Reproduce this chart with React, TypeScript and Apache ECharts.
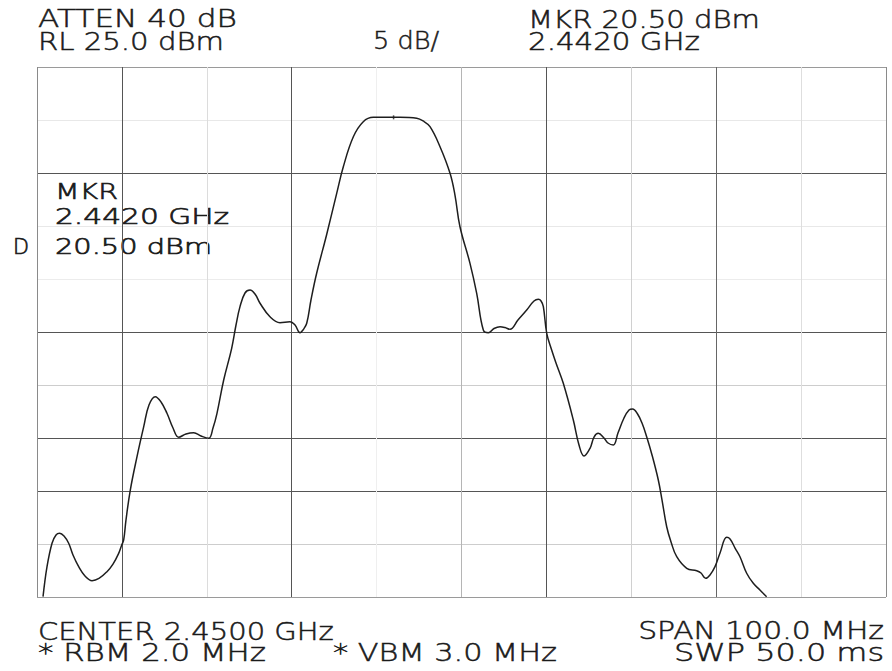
import React, { useEffect, useRef } from 'react';
import * as echarts from 'echarts';

// Trace: frequency (MHz) and level (dBm)
const freqMHz = [
  2400.71, 2401.18, 2401.77, 2402.24, 2402.67, 2403.18, 2403.73, 2404.24, 2404.91, 2405.65,
  2406.48, 2407.30, 2408.24, 2408.95, 2409.62, 2409.98, 2410.21, 2410.48, 2410.99, 2411.78,
  2412.57, 2413.19, 2413.93, 2414.61, 2415.31, 2416.02, 2416.69, 2417.55, 2418.46, 2419.32,
  2420.22, 2420.73, 2421.20, 2421.99, 2422.93, 2423.44, 2423.91, 2424.50, 2425.09, 2425.68,
  2426.27, 2427.44, 2428.62, 2429.80, 2430.39, 2430.98, 2431.33, 2431.77, 2432.27, 2432.94,
  2434.12, 2435.30, 2436.08, 2437.26, 2438.43, 2439.61, 2441.97, 2442.76, 2444.72, 2445.47,
  2446.29, 2447.47, 2448.65, 2449.23, 2449.82, 2451.00, 2451.79, 2452.57, 2453.16, 2453.83,
  2454.54, 2455.12, 2455.71, 2456.65, 2457.68, 2458.54, 2459.05, 2459.37, 2459.64, 2460.04,
  2460.62, 2461.13, 2461.99, 2463.17, 2463.84, 2464.43, 2465.14, 2465.61, 2466.11, 2466.78,
  2467.26, 2467.88, 2468.43, 2469.14, 2469.73, 2470.16, 2470.67, 2471.26, 2471.81, 2472.44,
  2473.18, 2473.62, 2474.17, 2474.68, 2475.35, 2476.53, 2477.70, 2478.21, 2478.76, 2479.27,
  2479.86, 2480.45, 2481.24, 2481.63, 2482.22, 2482.80, 2483.59, 2484.37, 2485.15, 2485.94,
];
const levelDbm = [
  -24.97, -22.14, -19.93, -19.15, -18.99, -19.25, -19.93, -21.04, -22.14, -23.02,
  -23.46, -23.25, -22.61, -21.89, -20.88, -20.09, -19.62, -17.74, -14.91, -11.76,
  -8.93, -6.89, -6.10, -6.60, -7.67, -9.06, -9.93, -9.62, -9.50, -9.81,
  -10.03, -9.06, -7.67, -4.53, -1.54, 0.66, 2.39, 3.68, 3.96, 3.58,
  2.71, 1.44, 0.88, 0.97, 0.66, -0.07, 0.19, 0.82, 3.02, 5.54,
  9.20, 13.08, 15.59, 18.42, 19.84, 20.25, 20.25, 20.25, 20.16, 19.91,
  19.37, 17.48, 14.97, 12.92, 9.93, 6.48, 3.65, 0.19, -0.07, 0.33,
  0.50, 0.42, 0.25, 1.13, 2.08, 2.92, 3.08, 2.92, 2.39, -0.12,
  -1.70, -2.92, -4.84, -8.30, -10.66, -11.70, -10.97, -9.91, -9.56, -10.00,
  -10.47, -10.66, -9.53, -8.11, -7.36, -7.26, -7.64, -8.58, -9.88, -11.60,
  -13.96, -15.85, -18.37, -19.81, -21.20, -22.29, -22.52, -22.74, -23.24, -22.92,
  -22.14, -20.85, -19.37, -19.53, -20.38, -21.20, -22.76, -23.71, -24.34, -24.97,
];

const markerFreq = [2442.0];
const markerLevel = [20.25];

// Axis settings (MHz, dBm)
const freqStart = 2400;
const freqStop = 2500;
const freqDiv = 10;
const refLevel = 25;
const bottomLevel = -25;
const dbPerDiv = 5;

// Annotation texts
const headerLeft = ['ATTEN 40 dB', 'RL 25.0 dBm'];
const headerScale = ['5 dB/'];
const headerRight = ['MKR 20.50 dBm', '2.4420 GHz'];
const footerLeft = ['CENTER 2.4500 GHz', '* RBM 2.0 MHz'];
const footerMid = ['* VBM 3.0 MHz'];
const footerRight = ['SPAN 100.0 MHz', 'SWP 50.0 ms'];
const markerBlock = ['MKR', '2.4420 GHz', '20.50 dBm'];
const sideLabel = ['D'];

const W = 892;
const H = 671;

const edgeFont = "'DejaVu Sans'";
const innerFont = "'DejaVu Sans'";

function measure(text: string, size: number, family: string, weight: string | number) {
  const c = document.createElement('canvas').getContext('2d')!;
  c.font = `${weight} ${size}px ${family}`;
  return c.measureText(text).width || 1;
}

function txt(
  text: string,
  x: number,
  cy: number,
  width: number,
  size: number,
  family: string,
  weight: string | number,
  align: 'left' | 'right' = 'left',
  strokeW = 0.5
) {
  const sx = width / measure(text, size, family, weight);
  return {
    type: 'text',
    x,
    y: cy,
    scaleX: sx,
    silent: true,
    style: {
      text,
      fontSize: size,
      fontFamily: family,
      fontWeight: weight,
      fill: '#1a1a1a',
      stroke: '#1a1a1a',
      lineWidth: strokeW,
      align,
      verticalAlign: 'middle',
    },
  };
}

const vColors = ['#8a8a8a', '#555', '#dcdcdc', '#555', '#efefef', '#b5b5b5', '#555', '#d0d0d0', '#666', '#dedede', '#8a8a8a'];
const hColors = ['#9a9a9a', '#cdcdcd', '#555', '#555', '#cdcdcd', '#555', '#ececec', '#e8e8e8', '#555', '#e8e8e8', '#9a9a9a'];

export default function App() {
  const ref = useRef<HTMLDivElement>(null);
  useEffect(() => {
    if (!ref.current) return;
    const chart = echarts.init(ref.current, undefined, { renderer: 'svg' });
    const trace = freqMHz.map((f, i) => [f, levelDbm[i]]);
    const marker = markerFreq.map((f, i) => [f, markerLevel[i]]);
    const ew = 200; // edge text weight
    const es = 24;
    const is = 22;
    const graphics = [
      txt(headerLeft[0], 38, 19, 199, es, edgeFont, ew),
      txt(headerLeft[1], 38, 41, 186, es, edgeFont, ew),
      txt(headerScale[0], 373, 41, 66, es, edgeFont, ew),
      txt(headerRight[0], 528, 19, 232, es, edgeFont, ew),
      txt(headerRight[1], 528, 41, 172, es, edgeFont, ew),
      txt(footerLeft[0], 38, 631, 296, es, edgeFont, ew),
      txt(footerLeft[1], 38, 653, 228, es, edgeFont, ew),
      txt(footerMid[0], 333, 653, 224, es, edgeFont, ew),
      txt(footerRight[0], 884, 631, 246, es, edgeFont, ew, 'right'),
      txt(footerRight[1], 884, 653, 210, es, edgeFont, ew, 'right'),
      txt(markerBlock[0], 55, 191, 63, is, innerFont, 200, 'left', 0.7),
      txt(markerBlock[1], 55, 216, 174, is, innerFont, 200, 'left', 0.7),
      txt(markerBlock[2], 55, 246, 157, is, innerFont, 200, 'left', 0.7),
      txt(sideLabel[0], 13, 246, 16, is, innerFont, 200, 'left', 0.7),
    ];
    chart.setOption({
      animation: false,
      backgroundColor: '#ffffff',
      grid: { left: 37, right: W - 886, top: 67, bottom: H - 597, containLabel: false },
      xAxis: {
        type: 'value',
        min: freqStart,
        max: freqStop,
        interval: freqDiv,
        axisLine: { show: false },
        axisTick: { show: false },
        axisLabel: { show: false },
        splitLine: { show: true, showMinLine: true, showMaxLine: true, lineStyle: { color: vColors, width: 1 } },
      },
      yAxis: {
        type: 'value',
        min: bottomLevel,
        max: refLevel,
        interval: dbPerDiv,
        axisLine: { show: false },
        axisTick: { show: false },
        axisLabel: { show: false },
        splitLine: { show: true, showMinLine: true, showMaxLine: true, lineStyle: { color: hColors, width: 1 } },
      },
      series: [
        {
          type: 'line',
          data: trace,
          smooth: 0.4,
          showSymbol: false,
          clip: true,
          lineStyle: { color: '#1e1e1e', width: 1.5 },
          z: 3,
        },
        {
          type: 'scatter',
          data: marker,
          symbol: 'rect',
          symbolSize: [1.5, 4],
          itemStyle: { color: '#1e1e1e' },
          z: 4,
        },
      ],
      graphic: graphics,
    });
    return () => chart.dispose();
  }, []);
  return <div ref={ref} style={{ position: 'fixed', left: 0, top: 0, width: W, height: H }} />;
}
